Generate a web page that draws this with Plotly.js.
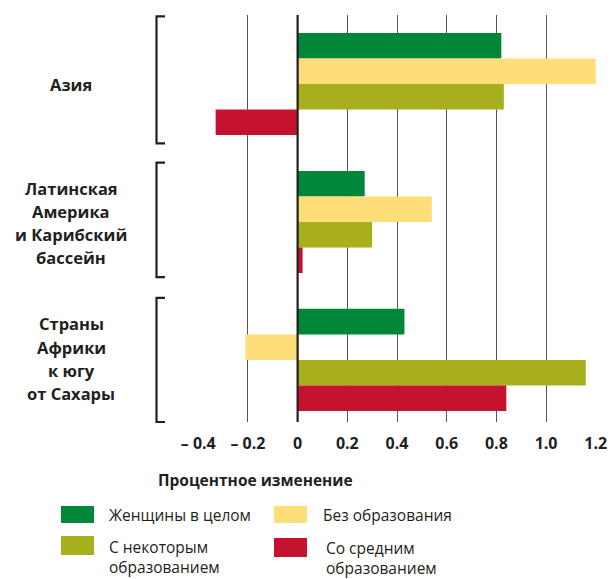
<!DOCTYPE html>
<html>
<head>
<meta charset="utf-8">
<script src="https://cdn.plot.ly/plotly-3.0.1.min.js"></script>
<style>html,body{margin:0;padding:0;background:#fff;}</style>
</head>
<body>
<div id="chart" style="width:613px;height:579px;"></div>
<script>
// ---- data ----
const categories = ["Азия", "Латинская Америка и Карибский бассейн", "Страны Африки к югу от Сахары"];
const categoryLines = [
  ["Азия"],
  ["Латинская", "Америка", "и Карибский", "бассейн"],
  ["Страны", "Африки", "к югу", "от Сахары"]
];
const seriesNames = ["Женщины в целом", "Без образования", "С некоторым образованием", "Со средним образованием"];
const seriesLegendText = [
  "Женщины в целом",
  "Без образования",
  "С некоторым<br>образованием",
  "Со средним<br>образованием"
];
const womenTotal = [0.82, 0.27, 0.43];
const noEducation = [1.20, 0.54, -0.21];
const someEducation = [0.83, 0.30, 1.16];
const secondaryEducation = [-0.33, 0.02, 0.84];
const tickVals = [-0.4, -0.2, 0, 0.2, 0.4, 0.6, 0.8, 1.0, 1.2];
const tickText = ["– 0.4", "– 0.2", "0", "0.2", "0.4", "0.6", "0.8", "1.0", "1.2"];
const axisTitle = "Процентное изменение";

// ---- styles ----
const colors = ["#00873a", "#fede78", "#a8af1c", "#c4122f"];
const seriesValues = [womenTotal, noEducation, someEducation, secondaryEducation];
const FONT = "Open Sans, sans-serif";
const INK = "#231f20";

// plot area in pixels
const L = 198, R = 596, T = 15, B = 422;
const W = R - L, H = B - T;
const px = x => (x - L) / W;
const py = y => (B - y) / H;
const yRange = [2.45, -0.5];
const catToPaper = v => (yRange[0] - v) / (yRange[0] - yRange[1]);

const traces = seriesValues.map((vals, i) => ({
  type: "bar",
  orientation: "h",
  name: seriesNames[i],
  x: vals,
  y: categories,
  marker: {color: colors[i], line: {width: 0}},
  hoverinfo: "x+name"
}));

const annotations = [];
// category labels
categoryLines.forEach((lines, ci) => {
  const n = lines.length;
  lines.forEach((ln, k) => {
    annotations.push({
      xref: "paper", yref: "y", x: px(71), y: categories[ci],
      xanchor: "center", yanchor: "middle",
      yshift: -((k - (n - 1) / 2) * 23.3) + (ci === 2 ? 1 : -1),
      text: ln, showarrow: false,
      font: {family: FONT, size: 16.5, color: INK, weight: 700}
    });
  });
});
// axis title
annotations.push({
  xref: "paper", yref: "paper", x: px(255), y: py(480),
  xanchor: "center", yanchor: "middle",
  text: axisTitle, showarrow: false,
  font: {family: FONT, size: 15.5, color: INK, weight: 700}
});

// custom legend
const legendPos = [
  {sx: 61, sy0: 506, sy1: 523, tx: 108, ty: 515},
  {sx: 274, sy0: 506, sy1: 523, tx: 322, ty: 515},
  {sx: 61, sy0: 536, sy1: 555, tx: 108, ty: 557},
  {sx: 274, sy0: 538, sy1: 557, tx: 325, ty: 558}
];
const shapes = [];
seriesLegendText.forEach((txt, i) => {
  const p = legendPos[i];
  shapes.push({
    type: "rect", xref: "paper", yref: "paper",
    x0: px(p.sx), x1: px(p.sx + 33), y0: py(p.sy1), y1: py(p.sy0),
    fillcolor: colors[i], line: {width: 0}
  });
  annotations.push({
    xref: "paper", yref: "paper", x: px(p.tx), y: py(p.ty),
    xanchor: "left", yanchor: "middle", align: "left",
    text: txt, showarrow: false, borderpad: 0,
    font: {family: FONT, size: 15.5, color: INK}
  });
});

// brackets
const bracketExt = [[-0.49, 0.43], [-0.43, 0.40], [-0.45, 0.45]];
categories.forEach((c, i) => {
  const yTop = catToPaper(i + bracketExt[i][0]);
  const yBot = catToPaper(i + bracketExt[i][1]);
  const x0 = px(156.5), x1 = px(165);
  shapes.push({
    type: "path", xref: "paper", yref: "paper",
    path: `M ${x1},${yTop} L ${x0},${yTop} L ${x0},${yBot} L ${x1},${yBot}`,
    line: {color: INK, width: 2.2}
  });
});
// zero line on top of bars
shapes.push({
  type: "line", xref: "x", yref: "paper", x0: 0, x1: 0, y0: 0, y1: 1,
  line: {color: INK, width: 2.2}, layer: "above"
});

const layout = {
  width: 613, height: 579,
  margin: {l: L, r: 613 - R, t: T, b: 579 - B, pad: 0},
  paper_bgcolor: "#ffffff", plot_bgcolor: "#ffffff",
  showlegend: false,
  barmode: "group", bargap: 0.26, bargroupgap: 0,
  xaxis: {
    range: [-0.401, 1.201],
    tickvals: tickVals, ticktext: tickText,
    showgrid: true, gridcolor: "#555555", gridwidth: 1,
    zeroline: false, showline: false, ticks: "",
    ticklabelstandoff: 10,
    tickfont: {family: FONT, size: 16, color: INK, weight: 700},
    fixedrange: true
  },
  yaxis: {
    type: "category", range: yRange,
    showticklabels: false, showgrid: false, zeroline: false, showline: false, ticks: "",
    fixedrange: true
  },
  annotations: annotations,
  shapes: shapes,
  font: {family: FONT, color: INK}
};

Plotly.newPlot("chart", traces, layout, {displayModeBar: false, staticPlot: true});
</script>
</body>
</html>
